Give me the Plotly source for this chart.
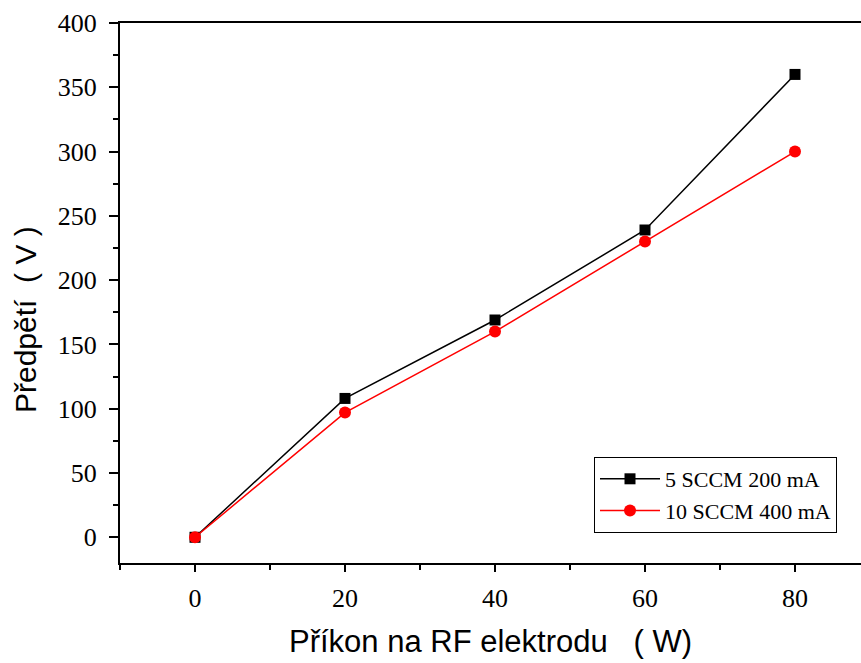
import plotly.graph_objects as go

# RF electrode power (W) and resulting bias voltage (V)
power_w = [0, 20, 40, 60, 80]
bias_5sccm = [0, 108, 169, 239, 360]
bias_10sccm = [0, 97, 160, 230, 300]
series_names = ["5 SCCM 200 mA", "10 SCCM 400 mA"]

x_ticks = [0, 20, 40, 60, 80]
y_ticks = [0, 50, 100, 150, 200, 250, 300, 350, 400]

serif = "Liberation Serif, Times New Roman, serif"
sans = "Liberation Sans, Arial, sans-serif"

fig = go.Figure()
fig.add_trace(go.Scatter(
    x=power_w, y=bias_5sccm, name=series_names[0], mode="lines+markers",
    line=dict(color="black", width=1.5),
    marker=dict(symbol="square", size=11, color="black"),
))
fig.add_trace(go.Scatter(
    x=power_w, y=bias_10sccm, name=series_names[1], mode="lines+markers",
    line=dict(color="#ff0000", width=1.5),
    marker=dict(symbol="circle", size=12, color="#ff0000"),
))

fig.update_layout(
    width=861, height=663,
    margin=dict(l=120, r=0, t=23, b=100),
    paper_bgcolor="white", plot_bgcolor="white",
    showlegend=True,
    legend=dict(
        x=(594 - 120) / 741, y=(563 - 457) / 540, xanchor="left", yanchor="top",
        bordercolor="black", borderwidth=1, bgcolor="white",
        font=dict(family=serif, size=22, color="black"),
        tracegroupgap=0, itemwidth=60,
    ),
)

fig.update_xaxes(
    range=[-10, 88.8], tickvals=x_ticks, showgrid=False, zeroline=False,
    showline=True, linecolor="black", linewidth=2, mirror=True,
    ticks="outside", ticklen=7, tickwidth=2, tickcolor="black",
    minor=dict(dtick=10, ticks="outside", ticklen=5, tickwidth=2, tickcolor="black", tick0=0),
    tickfont=dict(family=serif, size=26, color="black"),
    ticklabelstandoff=4,
)
fig.update_yaxes(
    range=[-20, 400], tickvals=y_ticks, showgrid=False, zeroline=False,
    showline=True, linecolor="black", linewidth=2, mirror=False,
    ticks="outside", ticklen=9, tickwidth=2, tickcolor="black",
    minor=dict(dtick=25, ticks="outside", ticklen=5, tickwidth=2, tickcolor="black", tick0=0),
    tickfont=dict(family=serif, size=26, color="black"),
    ticklabelstandoff=7,
)

# Axis titles
fig.add_annotation(
    text="Příkon na RF elektrodu   ( W)", xref="paper", yref="paper",
    x=(491 - 120) / 741, y=-(641 - 563) / 540, xanchor="center", yanchor="middle",
    showarrow=False, font=dict(family=sans, size=31, color="black"),
)
fig.add_annotation(
    text="Předpětí  ( V )", xref="paper", yref="paper",
    x=-(120 - 25) / 741, y=(563 - 320) / 540, xanchor="center", yanchor="middle",
    textangle=-90, showarrow=False, font=dict(family=sans, size=30, color="black"),
)

fig.write_html("out.html")
